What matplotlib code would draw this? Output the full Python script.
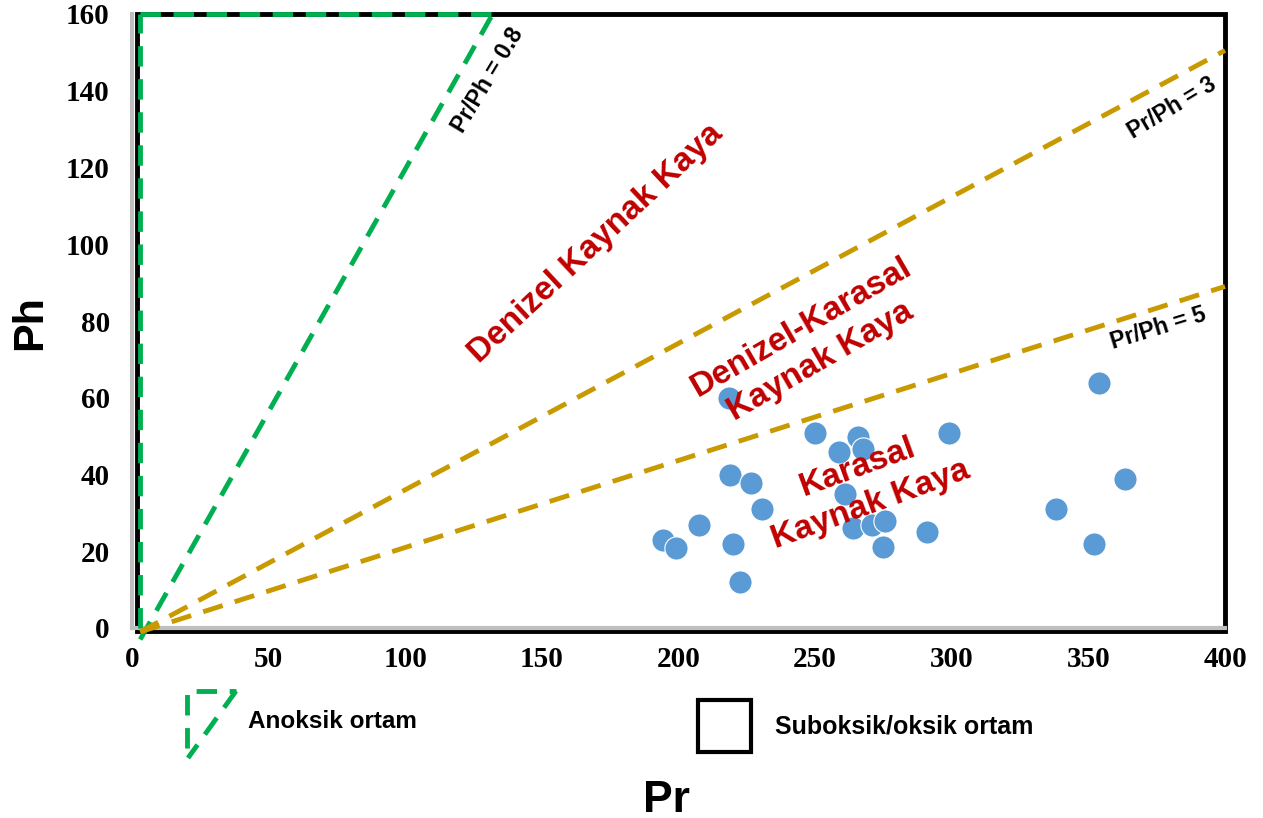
import matplotlib.pyplot as plt
from matplotlib.patches import Rectangle
from matplotlib.lines import Line2D

# Pr / Ph measurements
pr = [194.3, 199.1, 207.5, 218.5, 218.8, 219.9, 222.5, 226.5, 230.6, 250.0,
      258.7, 260.9, 265.7, 267.5, 263.9, 270.8, 275.6, 274.8, 290.9, 299.0,
      338.2, 352.1, 353.9, 363.4]
ph = [22.9, 20.8, 26.8, 59.9, 39.9, 21.9, 12.0, 37.8, 31.0, 50.8,
      45.9, 34.9, 49.8, 46.6, 26.1, 26.8, 27.9, 21.1, 25.0, 50.8,
      31.0, 21.9, 63.8, 38.8]

xticks = [0, 50, 100, 150, 200, 250, 300, 350, 400]
yticks = [0, 20, 40, 60, 80, 100, 120, 140, 160]

# ratio lines: start point and end point
origin = (3, -1)
line_08_end = (132, 160)
line_3_end = (400, 150.5)
line_5_end = (400, 89)

W, H = 1263, 818
fig = plt.figure(figsize=(W / 100, H / 100), dpi=100)
ax = fig.add_axes([132 / W, 1 - 628 / H, (1225 - 132) / W, (628 - 14) / H])
ax.set_xlim(0, 400)
ax.set_ylim(0, 160)

green = '#00B050'
gold = '#C89A00'
red = '#C00000'
dash = (0, (4.2, 2.6))

for s in ['top', 'right']:
    ax.spines[s].set_visible(False)
for s in ['left', 'bottom']:
    ax.spines[s].set_color('#BFBFBF')
    ax.spines[s].set_linewidth(3)

ax.add_patch(Rectangle((2, -0.8), 398, 160.8, fill=False, ec='black', lw=3.5,
                       clip_on=False, zorder=2))

# anoxic field (green dashed triangle)
ax.plot([3, 3], [0, 160], color=green, lw=3.5, ls=dash, clip_on=False, zorder=3)
ax.plot([3, line_08_end[0]], [160, 160], color=green, lw=3.5, ls=dash,
        clip_on=False, zorder=3)
ax.plot([origin[0], line_08_end[0]], [-3, line_08_end[1]], color=green, lw=3.5,
        ls=dash, clip_on=False, zorder=3)

ax.plot([origin[0], line_3_end[0]], [origin[1], line_3_end[1]], color=gold, lw=3.5,
        ls=dash, clip_on=False, zorder=3)
ax.plot([origin[0], line_5_end[0]], [origin[1], line_5_end[1]], color=gold, lw=3.5,
        ls=dash, clip_on=False, zorder=3)

ax.scatter(pr, ph, s=280, color='#5B9BD5', edgecolors='white', linewidths=0.8, zorder=4)

ax.set_xticks(xticks)
ax.set_yticks(yticks)
ax.tick_params(length=0)
ax.tick_params(axis='y', pad=16)
ax.tick_params(axis='x', pad=13)
for lab in ax.get_xticklabels() + ax.get_yticklabels():
    lab.set_fontfamily('Liberation Serif')
    lab.set_fontweight('bold')
    lab.set_fontsize(21)

sans = 'Liberation Sans'
ax.text(169.8, 100.3, 'Denizel Kaynak Kaya', color=red, fontsize=24, fontweight='bold',
        family=sans, rotation=43, ha='center', va='center', zorder=5)
ax.text(248.5, 74, 'Denizel-Karasal\nKaynak Kaya', color=red, fontsize=24,
        fontweight='bold', family=sans, rotation=30, ha='center', va='center',
        multialignment='center', linespacing=1.35, zorder=5)
ax.text(268, 37, 'Karasal\nKaynak Kaya', color=red, fontsize=24, fontweight='bold',
        family=sans, rotation=20, ha='center', va='center', multialignment='center',
        linespacing=1.35, zorder=5)

ax.text(130.3, 142.8, 'Pr/Ph = 0.8', fontsize=16.5, fontweight='bold', family=sans,
        rotation=59, ha='center', va='center', rotation_mode='anchor')
ax.text(380.6, 135.5, 'Pr/Ph = 3', fontsize=16.5, fontweight='bold', family=sans,
        rotation=31, ha='center', va='center', rotation_mode='anchor')
ax.text(375.5, 78.2, 'Pr/Ph = 5', fontsize=16.5, fontweight='bold', family=sans,
        rotation=17, ha='center', va='center', rotation_mode='anchor')

fig.text(30 / W, 1 - 323 / H, 'Ph', fontsize=31, fontweight='bold', family=sans,
         rotation=90, ha='center', va='center')
fig.text(666 / W, 1 - 800 / H, 'Pr', fontsize=32, fontweight='bold', family=sans,
         ha='center', va='center')


def fx(px):
    return px / W


def fy(py):
    return 1 - py / H


# legend: anoxic triangle and suboxic/oxic square
fig.add_artist(Line2D([fx(187), fx(187), fx(236)], [fy(748), fy(691), fy(691)],
                      color=green, lw=3.5, ls=dash))
fig.add_artist(Line2D([fx(236), fx(188)], [fy(691), fy(758)],
                      color=green, lw=3.5, ls=dash))
fig.text(fx(248), fy(722), 'Anoksik ortam', fontsize=17.5, fontweight='bold', family=sans,
         va='center')
fig.add_artist(Rectangle((fx(698), fy(752)), fx(751) - fx(698), fy(700) - fy(752),
                         fill=False, ec='black', lw=3, transform=fig.transFigure))
fig.text(fx(775), fy(727), 'Suboksik/oksik ortam', fontsize=18, fontweight='bold',
         family=sans, va='center')

fig.savefig('out.png', dpi=100)
